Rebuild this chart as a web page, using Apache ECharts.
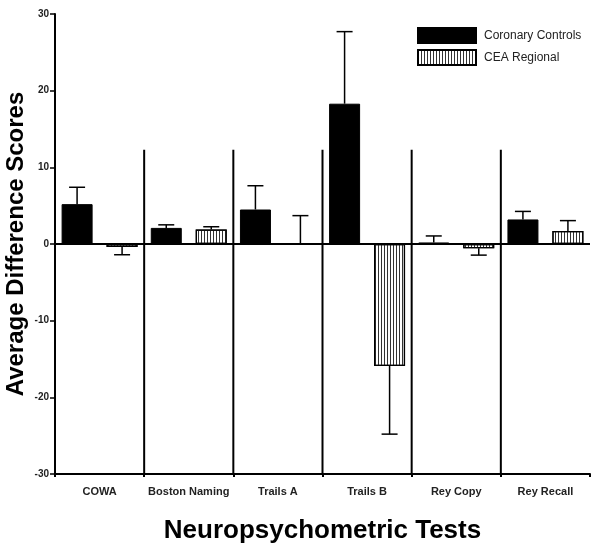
<!DOCTYPE html>
<html>
<head>
<meta charset="utf-8">
<script src="https://cdn.jsdelivr.net/npm/echarts@6/dist/echarts.min.js"></script>
<style>html,body{margin:0;padding:0;background:#fff}#c{width:602px;height:554px}</style>
</head>
<body>
<div id="c"></div>
<script>
var categories = ['COWA', 'Boston Naming', 'Trails A', 'Trails B', 'Rey Copy', 'Rey Recall'];
var seriesNames = ['Coronary Controls', 'CEA Regional'];
var coronaryMeans = [5.2, 2.1, 4.5, 18.3, 0.2, 3.2];
var coronaryErrEnds = [7.4, 2.5, 7.6, 27.7, 1.05, 4.25];
var ceaMeans = [-0.4, 1.9, 0, -15.9, -0.55, 1.7];
var ceaErrEnds = [-1.4, 2.25, 3.7, -24.8, -1.45, 3.05];
var yTicks = [-30, -20, -10, 0, 10, 20, 30];

var FONT = '"Liberation Sans", Arial, sans-serif';
var chart = echarts.init(document.getElementById('c'), null, {renderer: 'canvas'});

function errData(means, ends) {
  return categories.map(function (c, i) { return [i, means[i], ends[i]]; });
}
function errRender(offsetPx) {
  return function (params, api) {
    var i = api.value(0);
    var p0 = api.coord([i, api.value(1)]);
    var p1 = api.coord([i, api.value(2)]);
    var x = p0[0] + offsetPx;
    var st = {stroke: '#000', lineWidth: 1.5};
    return {
      type: 'group',
      children: [
        {type: 'line', shape: {x1: x, y1: p0[1], x2: x, y2: p1[1]}, style: st},
        {type: 'line', shape: {x1: x - 8, y1: p1[1], x2: x + 8, y2: p1[1]}, style: st}
      ]
    };
  };
}

var option = {
  animation: false,
  backgroundColor: '#fff',
  grid: {left: 55, right: 12, top: 14, bottom: 80, containLabel: false, outerBoundsMode: 'none'},
  legend: {
    orient: 'vertical',
    left: 417, top: 27,
    itemWidth: 58, itemHeight: 15, itemGap: 5,
    padding: 0,
    icon: 'rect',
    data: seriesNames,
    textStyle: {fontFamily: FONT, fontSize: 12, color: '#222', padding: [0, 0, 0, 3]}
  },
  xAxis: {
    type: 'category',
    data: categories,
    axisLine: {onZero: false, lineStyle: {color: '#000', width: 2}},
    axisTick: {show: true, length: 3, lineStyle: {color: '#000', width: 2}},
    axisLabel: {interval: 0, fontFamily: FONT, fontWeight: 'bold', fontSize: 11, color: '#222', margin: 12},
    name: 'Neuropsychometric Tests',
    nameLocation: 'middle',
    nameGap: 44,
    nameMoveOverlap: false,
    nameTextStyle: {fontFamily: FONT, fontWeight: 'bold', fontSize: 26, color: '#000'}
  },
  yAxis: {
    type: 'value',
    min: yTicks[0], max: yTicks[yTicks.length - 1], interval: 10,
    splitLine: {show: false},
    axisLine: {show: true, lineStyle: {color: '#000', width: 2}},
    axisTick: {show: true, length: 5, lineStyle: {color: '#000', width: 1.5}},
    axisLabel: {fontFamily: FONT, fontWeight: 'bold', fontSize: 10, color: '#222', margin: 6},
    name: 'Average Difference Scores',
    nameLocation: 'middle',
    nameGap: 27,
    nameMoveOverlap: false,
    nameTextStyle: {fontFamily: FONT, fontWeight: 'bold', fontSize: 24, color: '#000'}
  },
  series: [
    {
      name: seriesNames[0],
      type: 'bar',
      data: coronaryMeans,
      barWidth: 31,
      barGap: '45%',
      itemStyle: {color: '#000', borderColor: '#000', borderWidth: 1},
      markLine: {
        silent: true, symbol: 'none', label: {show: false},
        lineStyle: {color: '#000', width: 2, type: 'solid'},
        data: [{yAxis: 0}]
      },
      z: 3
    },
    {
      name: seriesNames[1],
      type: 'bar',
      data: ceaMeans,
      barWidth: 31,
      itemStyle: {
        color: '#fff', borderColor: '#000', borderWidth: 1.2,
        decal: {symbol: 'rect', symbolSize: 1, color: '#333', dashArrayX: [1, 2], dashArrayY: [1, 0]}
      },
      z: 3
    },
    {
      type: 'custom',
      renderItem: errRender(-22.5),
      data: errData(coronaryMeans, coronaryErrEnds),
      z: 2, silent: true
    },
    {
      type: 'custom',
      renderItem: errRender(22.5),
      data: errData(ceaMeans, ceaErrEnds),
      z: 2, silent: true
    },
    {
      type: 'custom',
      silent: true,
      data: categories.slice(0, categories.length - 1).map(function (c, i) { return [i]; }),
      renderItem: function (params, api) {
        var i = api.value(0);
        var band = api.size([1, 0])[0];
        var top = api.coord([i, 12.3]);
        var bot = api.coord([i, yTicks[0]]);
        var x = top[0] + band / 2;
        return {type: 'line', shape: {x1: x, y1: top[1], x2: x, y2: bot[1]}, style: {stroke: '#000', lineWidth: 2}};
      },
      z: 1
    }
  ]
};
chart.setOption(option);
</script>
</body>
</html>
